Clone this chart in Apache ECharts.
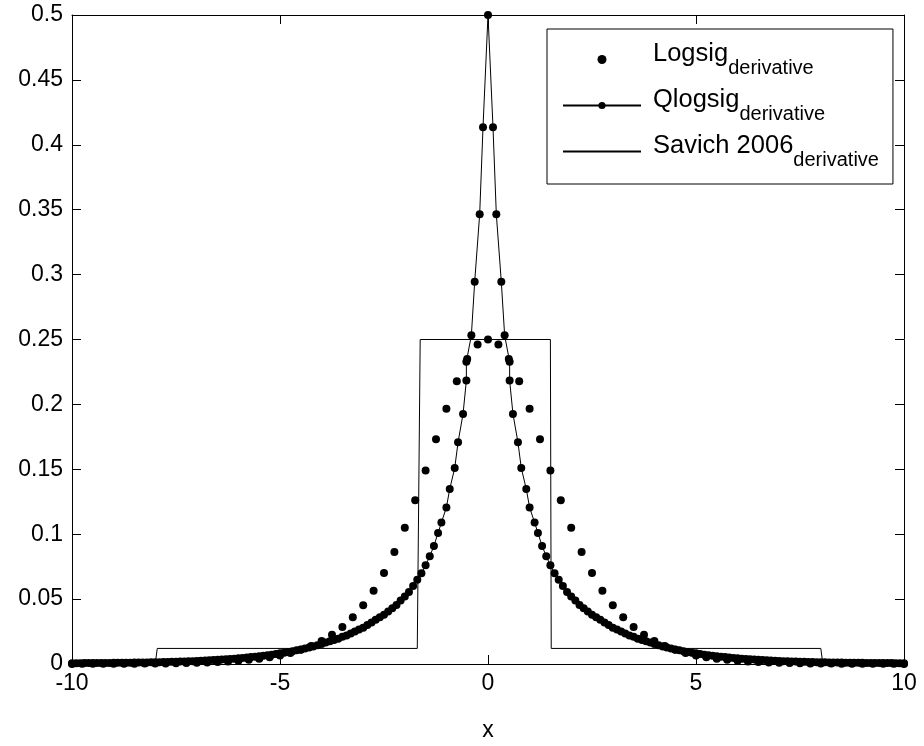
<!DOCTYPE html>
<html>
<head>
<meta charset="utf-8">
<script src="https://cdn.jsdelivr.net/npm/echarts@6/dist/echarts.min.js"></script>
<style>
html, body { margin: 0; padding: 0; background: #fff; }
#chart { width: 924px; height: 746px; }
</style>
</head>
<body>
<div id="chart"></div>
<script>
// right half (x >= 0), the curves are symmetric about x = 0
var logsigX = [0, 0.25, 0.5, 0.75, 1, 1.25, 1.5, 1.75, 2, 2.25, 2.5, 2.75, 3, 3.25, 3.5, 3.75, 4, 4.25, 4.5, 4.75,
	5, 5.25, 5.5, 5.75, 6, 6.25, 6.5, 6.75, 7, 7.25, 7.5, 7.75, 8, 8.25, 8.5, 8.75, 9, 9.25, 9.5, 9.75, 10]
var logsigY = [0.25, 0.2461, 0.235, 0.2179, 0.1966, 0.1731, 0.1491, 0.1261, 0.105, 0.0863, 0.0701, 0.0565, 0.0452,
	0.036, 0.0285, 0.0225, 0.0177, 0.0139, 0.0109, 0.0085, 0.0066, 0.0052, 0.0041, 0.0032, 0.0025, 0.0019, 0.0015,
	0.0012, 0.0009, 0.0007, 0.0006, 0.0004, 0.0003, 0.0003, 0.0002, 0.0002, 0.0001, 0.0001, 0.0001, 0.0001, 0]

var qlogsigX = [0, 0.12, 0.2, 0.32, 0.4, 0.52, 0.52, 0.6, 0.72, 0.8, 0.92, 1, 1.12,
	1.2, 1.3, 1.4, 1.5, 1.6, 1.7, 1.8, 1.9,
	2, 2.1, 2.2, 2.3, 2.4, 2.5, 2.6, 2.7, 2.8, 2.9,
	3, 3.1, 3.2, 3.3, 3.4, 3.5, 3.6, 3.7, 3.8, 3.9,
	4, 4.1, 4.2, 4.3, 4.4, 4.5, 4.6, 4.7, 4.8, 4.9,
	5, 5.1, 5.2, 5.3, 5.4, 5.5, 5.6, 5.7, 5.8, 5.9,
	6, 6.1, 6.2, 6.3, 6.4, 6.5, 6.6, 6.7, 6.8, 6.9,
	7, 7.1, 7.2, 7.3, 7.4, 7.5, 7.6, 7.7, 7.8, 7.9,
	8, 8.1, 8.2, 8.3, 8.4, 8.5, 8.6, 8.7, 8.8, 8.9,
	9, 9.1, 9.2, 9.3, 9.4, 9.5, 9.6, 9.7, 9.8, 9.9, 10]
var qlogsigY = [0.5, 0.4136, 0.3465, 0.2945, 0.2533, 0.2328, 0.2184, 0.1927, 0.1708, 0.151, 0.1348, 0.1206, 0.109,
	0.101, 0.091, 0.083, 0.076, 0.07, 0.065, 0.06, 0.0555,
	0.052, 0.049, 0.0455, 0.043, 0.0405, 0.038, 0.036, 0.034, 0.032, 0.03,
	0.028, 0.0265, 0.025, 0.0235, 0.022, 0.021, 0.0195, 0.0185, 0.0175, 0.0165,
	0.0155, 0.0145, 0.0135, 0.0127, 0.0119, 0.0112, 0.0105, 0.0099, 0.0093, 0.0087,
	0.0082, 0.0077, 0.0072, 0.0068, 0.0064, 0.006, 0.0056, 0.0053, 0.005, 0.0047,
	0.0044, 0.0041, 0.0039, 0.0036, 0.0034, 0.0032, 0.003, 0.0028, 0.0027, 0.0025,
	0.0024, 0.0022, 0.0021, 0.002, 0.0019, 0.0018, 0.0017, 0.0016, 0.0015, 0.0014,
	0.0013, 0.0013, 0.0012, 0.0012, 0.0011, 0.0011, 0.001, 0.001, 0.0009, 0.0009,
	0.0009, 0.0008, 0.0008, 0.0008, 0.0007, 0.0007, 0.0007, 0.0007, 0.0006, 0.0006, 0.0006]

// step curve, full range
var savichX = [-10, -8, -7.95, -1.7, -1.63, 1.5, 1.52, 8, 8.05, 10]
var savichY = [0, 0, 0.012, 0.012, 0.25, 0.25, 0.012, 0.012, 0, 0]

var seriesNames = ['Logsig', 'Qlogsig', 'Savich 2006']
var subText = 'derivative'

var FONT = "'Liberation Sans', Arial, sans-serif"

function mirrored(xs, ys) {
	var out = []
	for (var i = xs.length - 1; i > 0; i--) {
		out.push([-xs[i], ys[i]])
	}
	for (var j = 0; j < xs.length; j++) {
		out.push([xs[j], ys[j]])
	}
	return out
}

function pairs(xs, ys) {
	return xs.map(function(x, i) { return [x, ys[i]] })
}

var myEchart = echarts.init(document.getElementById('chart'))

var hiddenAxis = {
	axisLine: { show: true, onZero: false, lineStyle: { color: '#000', width: 1 } },
	axisTick: { show: true, inside: true, length: 9, lineStyle: { color: '#000' } },
	axisLabel: { show: false },
	splitLine: { show: false }
}

var option = {
	backgroundColor: '#fff',
	animation: false,
	textStyle: { fontFamily: FONT },
	grid: { left: 72, right: 20, top: 15, bottom: 82, containLabel: false, outerBoundsMode: 'none' },
	legend: {
		orient: 'vertical',
		left: 547,
		top: 29,
		padding: [12, 14, 14, 15],
		borderColor: '#000',
		borderWidth: 1,
		itemWidth: 78,
		itemHeight: 9,
		itemGap: 9,
		selectedMode: false,
		data: [
			{ name: seriesNames[0] },
			{ name: seriesNames[1] },
			{ name: seriesNames[2], itemStyle: { opacity: 0 } }
		],
		formatter: function(name) {
			return '{m|' + name + '}{s|' + subText + '}'
		},
		textStyle: {
			color: '#000',
			rich: {
				m: { fontSize: 25.5, fontFamily: FONT, color: '#000', lineHeight: 37, verticalAlign: 'top', padding: [0, 0, 0, 7] },
				s: { fontSize: 20, fontFamily: FONT, color: '#000', lineHeight: 37, verticalAlign: 'bottom' }
			}
		}
	},
	xAxis: [{
		type: 'value',
		min: -10,
		max: 10,
		interval: 5,
		position: 'bottom',
		name: 'x',
		nameLocation: 'middle',
		nameGap: 55,
		nameTextStyle: { color: '#000', fontSize: 23, fontFamily: FONT },
		axisLine: { onZero: false, lineStyle: { color: '#000', width: 1 } },
		axisTick: { inside: true, length: 9, lineStyle: { color: '#000' } },
		axisLabel: { color: '#000', fontSize: 23, fontFamily: FONT, margin: 8 },
		splitLine: { show: false }
	}, Object.assign({
		type: 'value', min: -10, max: 10, interval: 5, position: 'top'
	}, hiddenAxis)],
	yAxis: [{
		type: 'value',
		min: 0,
		max: 0.5,
		interval: 0.05,
		position: 'left',
		axisLine: { show: true, onZero: false, lineStyle: { color: '#000', width: 1 } },
		axisTick: { show: true, inside: true, length: 9, lineStyle: { color: '#000' } },
		axisLabel: { color: '#000', fontSize: 23, fontFamily: FONT, margin: 9 },
		splitLine: { show: false }
	}, Object.assign({
		type: 'value', min: 0, max: 0.5, interval: 0.05, position: 'right'
	}, hiddenAxis)],
	series: [{
		name: seriesNames[0],
		type: 'scatter',
		symbol: 'circle',
		symbolSize: 8,
		itemStyle: { color: '#000', opacity: 1 },
		data: mirrored(logsigX, logsigY),
		z: 3
	}, {
		name: seriesNames[1],
		type: 'line',
		symbol: 'circle',
		symbolSize: 8,
		showSymbol: true,
		showAllSymbol: true,
		clip: false,
		lineStyle: { color: '#000', width: 1 },
		itemStyle: { color: '#000' },
		data: mirrored(qlogsigX, qlogsigY),
		z: 3
	}, {
		name: seriesNames[2],
		type: 'line',
		symbol: 'none',
		lineStyle: { color: '#000', width: 1 },
		itemStyle: { color: '#000' },
		data: pairs(savichX, savichY),
		z: 2
	}]
}
myEchart.setOption(option)
</script>
</body>
</html>
